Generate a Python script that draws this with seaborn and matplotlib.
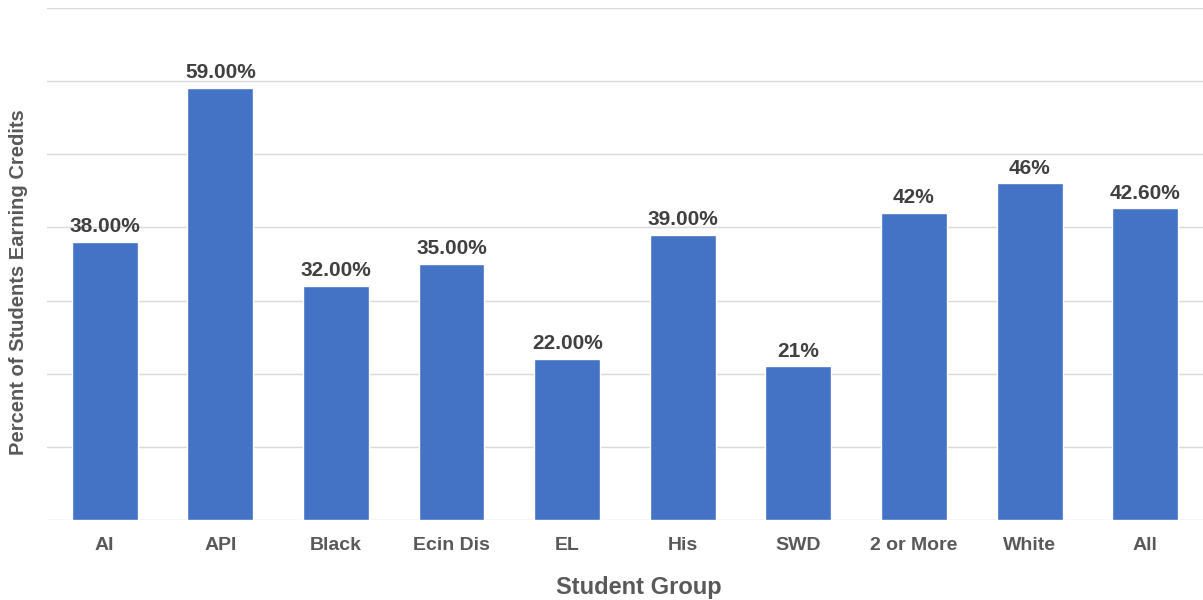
import pandas as pd
import matplotlib.pyplot as plt
import seaborn as sns

# data
groups = ["AI", "API", "Black", "Ecin Dis", "EL", "His", "SWD", "2 or More", "White", "All"]
values = [38, 59, 32, 35, 22, 39, 21, 42, 46, 42.6]
labels = ["38.00%", "59.00%", "32.00%", "35.00%", "22.00%", "39.00%", "21%", "42%", "46%", "42.60%"]

df = pd.DataFrame({"group": groups, "value": values})

sns.set_theme(style="white")
plt.rcParams['font.family'] = ['Liberation Sans', 'DejaVu Sans']

fig = plt.figure(figsize=(12.03, 6), dpi=100)
ax = fig.add_axes([0.039, 0.133, 0.961, 0.854])

sns.barplot(data=df, x="group", y="value", color="#4472C4", width=0.57,
            saturation=1, ax=ax, zorder=3)

for i, (v, lab) in enumerate(zip(values, labels)):
    ax.text(i, v + 0.8, lab, ha="center", va="bottom", fontsize=15,
            fontweight="bold", color="#404040", zorder=4)

ax.set_ylim(0, 70)
ax.set_xlim(-0.5, len(groups) - 0.5)
ax.set_yticks(range(0, 71, 10))
ax.set_yticklabels([])
ax.tick_params(axis="y", length=0)
ax.tick_params(axis="x", length=0, labelsize=14, labelcolor="#595959", pad=12)
for t in ax.get_xticklabels():
    t.set_fontweight("bold")
ax.grid(axis="y", color="#D9D9D9", linewidth=1, zorder=0)
for s in ax.spines.values():
    s.set_visible(False)

ax.set_xlabel("Student Group", fontsize=17, fontweight="bold", color="#595959")
ax.set_ylabel("Percent of Students Earning Credits", fontsize=14.5, fontweight="bold",
              color="#595959")
ax.xaxis.set_label_coords(0.512, -0.108)
ax.yaxis.set_label_coords(-0.016, 0.465)

fig.savefig("out.png", dpi=100)
